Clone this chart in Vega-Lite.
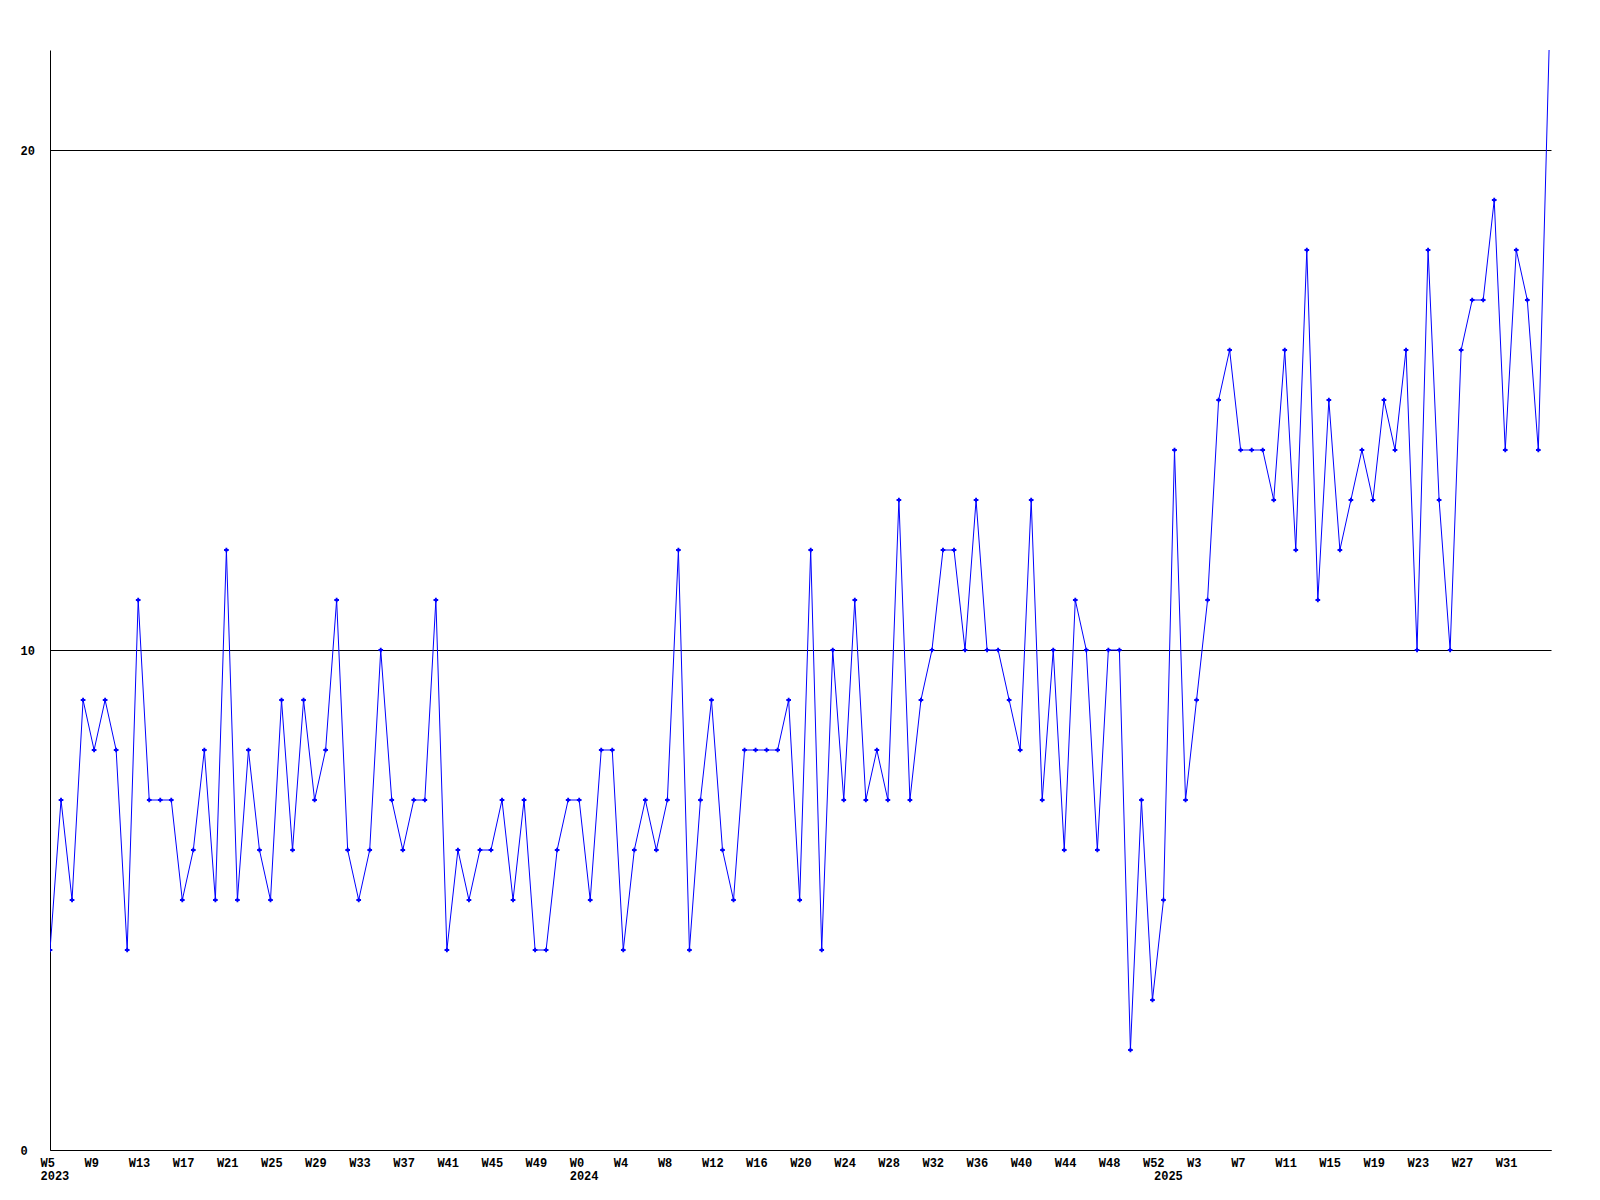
{
  "$schema": "https://vega.github.io/schema/vega-lite/v6.json",
  "autosize": "none",
  "width": 1501,
  "height": 1100,
  "padding": {"left": 50, "top": 50, "right": 49, "bottom": 50},
  "background": "white",
  "config": {"view": {"stroke": null}},
  "data": {"values": [
    {"i":0,"v":4},{"i":1,"v":7},{"i":2,"v":5},{"i":3,"v":9},{"i":4,"v":8},{"i":5,"v":9},{"i":6,"v":8},{"i":7,"v":4},{"i":8,"v":11},{"i":9,"v":7},
    {"i":10,"v":7},{"i":11,"v":7},{"i":12,"v":5},{"i":13,"v":6},{"i":14,"v":8},{"i":15,"v":5},{"i":16,"v":12},{"i":17,"v":5},{"i":18,"v":8},{"i":19,"v":6},
    {"i":20,"v":5},{"i":21,"v":9},{"i":22,"v":6},{"i":23,"v":9},{"i":24,"v":7},{"i":25,"v":8},{"i":26,"v":11},{"i":27,"v":6},{"i":28,"v":5},{"i":29,"v":6},
    {"i":30,"v":10},{"i":31,"v":7},{"i":32,"v":6},{"i":33,"v":7},{"i":34,"v":7},{"i":35,"v":11},{"i":36,"v":4},{"i":37,"v":6},{"i":38,"v":5},{"i":39,"v":6},
    {"i":40,"v":6},{"i":41,"v":7},{"i":42,"v":5},{"i":43,"v":7},{"i":44,"v":4},{"i":45,"v":4},{"i":46,"v":6},{"i":47,"v":7},{"i":48,"v":7},{"i":49,"v":5},
    {"i":50,"v":8},{"i":51,"v":8},{"i":52,"v":4},{"i":53,"v":6},{"i":54,"v":7},{"i":55,"v":6},{"i":56,"v":7},{"i":57,"v":12},{"i":58,"v":4},{"i":59,"v":7},
    {"i":60,"v":9},{"i":61,"v":6},{"i":62,"v":5},{"i":63,"v":8},{"i":64,"v":8},{"i":65,"v":8},{"i":66,"v":8},{"i":67,"v":9},{"i":68,"v":5},{"i":69,"v":12},
    {"i":70,"v":4},{"i":71,"v":10},{"i":72,"v":7},{"i":73,"v":11},{"i":74,"v":7},{"i":75,"v":8},{"i":76,"v":7},{"i":77,"v":13},{"i":78,"v":7},{"i":79,"v":9},
    {"i":80,"v":10},{"i":81,"v":12},{"i":82,"v":12},{"i":83,"v":10},{"i":84,"v":13},{"i":85,"v":10},{"i":86,"v":10},{"i":87,"v":9},{"i":88,"v":8},{"i":89,"v":13},
    {"i":90,"v":7},{"i":91,"v":10},{"i":92,"v":6},{"i":93,"v":11},{"i":94,"v":10},{"i":95,"v":6},{"i":96,"v":10},{"i":97,"v":10},{"i":98,"v":2},{"i":99,"v":7},
    {"i":100,"v":3},{"i":101,"v":5},{"i":102,"v":14},{"i":103,"v":7},{"i":104,"v":9},{"i":105,"v":11},{"i":106,"v":15},{"i":107,"v":16},{"i":108,"v":14},{"i":109,"v":14},
    {"i":110,"v":14},{"i":111,"v":13},{"i":112,"v":16},{"i":113,"v":12},{"i":114,"v":18},{"i":115,"v":11},{"i":116,"v":15},{"i":117,"v":12},{"i":118,"v":13},{"i":119,"v":14},
    {"i":120,"v":13},{"i":121,"v":15},{"i":122,"v":14},{"i":123,"v":16},{"i":124,"v":10},{"i":125,"v":18},{"i":126,"v":13},{"i":127,"v":10},{"i":128,"v":16},{"i":129,"v":17},
    {"i":130,"v":17},{"i":131,"v":19},{"i":132,"v":14},{"i":133,"v":18},{"i":134,"v":17},{"i":135,"v":14},{"i":136,"v":22.2}
  ]},
  "encoding": {
    "x": {
      "field": "i", "type": "quantitative",
      "scale": {"domain": [0, 136.15], "nice": false, "zero": false},
      "axis": {
        "title": null,
        "values": [0,4,8,12,16,20,24,28,32,36,40,44,48,52,56,60,64,68,72,76,80,84,88,92,96,100,101,104,108,112,116,120,124,128,132],
        "labelExpr": "datum.value == 0 ? ['W5','2023'] : datum.value == 48 ? ['W0','2024'] : datum.value == 101 ? [' ','2025'] : datum.value < 48 ? 'W' + (datum.value + 5) : datum.value <= 100 ? 'W' + (datum.value - 48) : 'W' + (datum.value - 101)",
        "labelAlign": "left",
        "labelOffset": -10,
        "labelBaseline": "top",
        "labelPadding": 7,
        "labelLineHeight": 13,
        "labelOverlap": false,
        "labelFlush": false,
        "labelBound": false,
        "ticks": false,
        "tickSize": 0,
        "grid": false,
        "domainColor": "black",
        "domainWidth": 1,
        "labelFont": "Liberation Mono",
        "labelFontWeight": "bold",
        "labelFontSize": 12,
        "labelColor": "black"
      }
    },
    "y": {
      "field": "v", "type": "quantitative",
      "scale": {"domain": [0, 22], "nice": false, "zero": true},
      "axis": {
        "title": null,
        "values": [0, 10, 20],
        "labelAlign": "left",
        "labelBaseline": "middle",
        "labelPadding": 30,
        "ticks": false,
        "tickSize": 0,
        "grid": true,
        "gridColor": "black",
        "gridOpacity": 1,
        "gridWidth": 1,
        "domainColor": "black",
        "domainWidth": 1,
        "labelFont": "Liberation Mono",
        "labelFontWeight": "bold",
        "labelFontSize": 12,
        "labelColor": "black"
      }
    }
  },
  "layer": [
    {"mark": {"type": "line", "color": "#0000ff", "strokeWidth": 1, "clip": true}},
    {"mark": {"type": "point", "shape": "cross", "size": 22, "filled": true, "color": "#0000ff", "opacity": 1, "clip": true}}
  ]
}
